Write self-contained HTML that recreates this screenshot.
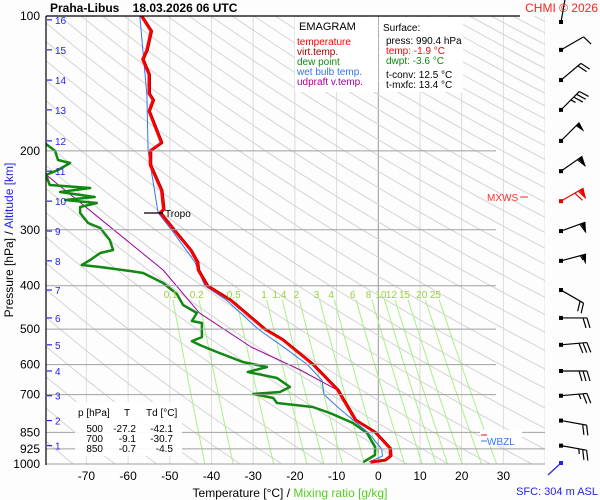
<!DOCTYPE html>
<html><head><meta charset="utf-8"><style>
body{margin:0;background:#fff;}
svg{display:block;font-family:"Liberation Sans",sans-serif;}
</style></head><body>
<svg id="c" width="600" height="500" viewBox="0 0 600 500">
<rect x="0" y="0" width="600" height="500" fill="#fdfdfd"/>
<g id="grid"></g>
<g id="series"></g>
<g id="winds"></g>
<g id="labels"></g>
<g>
<rect x="295" y="17" width="83" height="75" fill="#fff"/>
<rect x="379" y="17" width="84" height="75" fill="#fff"/>
<text x="299" y="30" font-size="11" fill="#000" font-family="Liberation Sans,sans-serif">EMAGRAM</text>
<text x="297" y="45" font-size="10" fill="#ff0000" font-family="Liberation Sans,sans-serif">temperature</text>
<text x="297" y="55" font-size="10" fill="#a00000" font-family="Liberation Sans,sans-serif">virt.temp.</text>
<text x="297" y="65" font-size="10" fill="#118811" font-family="Liberation Sans,sans-serif">dew point</text>
<text x="297" y="75" font-size="10" fill="#3377ee" font-family="Liberation Sans,sans-serif">wet bulb temp.</text>
<text x="297" y="85" font-size="10" fill="#a000a0" font-family="Liberation Sans,sans-serif">udpraft v.temp.</text>
</g>
<g font-family="Liberation Sans,sans-serif" font-size="10">
<text x="383" y="31" fill="#000">Surface:</text>
<text x="386" y="44" fill="#000">press: 990.4 hPa</text>
<text x="386" y="54" fill="#ff0000">temp: -1.9 °C</text>
<text x="386" y="64" fill="#118811">dwpt: -3.6 °C</text>
<text x="386" y="78" fill="#000">t-conv: 12.5 °C</text>
<text x="386" y="88" fill="#000">t-mxfc: 13.4 °C</text>
</g>
<g font-family="Liberation Sans,sans-serif" font-size="10" fill="#000">
<rect x="75" y="402" width="107" height="54" fill="#fff" opacity="0.9"/>
<text x="78" y="416">p [hPa]</text><text x="124" y="416">T</text><text x="146" y="416">Td [°C]</text>
<text x="103" y="432" text-anchor="end">500</text><text x="136" y="432" text-anchor="end">-27.2</text><text x="173" y="432" text-anchor="end">-42.1</text>
<text x="103" y="442" text-anchor="end">700</text><text x="136" y="442" text-anchor="end">-9.1</text><text x="173" y="442" text-anchor="end">-30.7</text>
<text x="103" y="452" text-anchor="end">850</text><text x="136" y="452" text-anchor="end">-0.7</text><text x="173" y="452" text-anchor="end">-4.5</text>
</g>
<line x1="46" y1="16" x2="46" y2="465" stroke="#000" stroke-width="1.2"/>
<line x1="46" y1="16" x2="520" y2="16" stroke="#000" stroke-width="1.2"/>
<g>
<line x1="144" y1="213" x2="163" y2="213" stroke="#000" stroke-width="1.2"/>
<text x="165" y="217" font-size="10" font-family="Liberation Sans,sans-serif">Tropo</text>
</g>
<g font-family="Liberation Sans,sans-serif" font-size="10">
<text x="487" y="201" fill="#ff3030">MXWS</text>
<line x1="520" y1="197" x2="528" y2="197" stroke="#ff3030"/>
</g>
<g font-family="Liberation Sans,sans-serif" font-size="10">
<rect x="480" y="430" width="42" height="16" fill="#fff"/>
<line x1="481" y1="435" x2="487" y2="435" stroke="#ff0000"/>
<line x1="481" y1="441" x2="487" y2="441" stroke="#3377ee"/>
<text x="487" y="445" fill="#3377ee">WBZL</text>
</g>
<g>
<line x1="548" y1="475" x2="561" y2="463" stroke="#22e" stroke-width="1.2"/>
<rect x="559" y="461" width="4" height="4" fill="#22e"/>
</g>
<text x="50" y="12" font-size="12" font-weight="bold" font-family="Liberation Sans,sans-serif">Praha-Libus&#160;&#160;&#160;&#160;18.03.2026 06 UTC</text>
<text x="598" y="12" font-size="12" text-anchor="end" fill="#ff2020" font-family="Liberation Sans,sans-serif">CHMI © 2026</text>
<text x="290" y="497" font-size="12" text-anchor="middle" font-family="Liberation Sans,sans-serif"><tspan fill="#000">Temperature [°C]  /  </tspan><tspan fill="#55cc22">Mixing ratio [g/kg]</tspan></text>
<text x="598" y="495" font-size="11" text-anchor="end" fill="#2222ee" font-family="Liberation Sans,sans-serif">SFC: 304 m ASL</text>
<text transform="translate(13,240) rotate(-90)" font-size="12" text-anchor="middle" font-family="Liberation Sans,sans-serif"><tspan fill="#000">Pressure [hPa]  /  </tspan><tspan fill="#2222ee">Altitude [km]</tspan></text>
</svg>
<script>
const NS='http://www.w3.org/2000/svg';
// ---- data ----
const pressureTicks=[100,200,300,400,500,600,700,850,925,1000];
const tempTicks=[-70,-60,-50,-40,-30,-20,-10,0,10,20,30];
const altitudeKm=[1,2,3,4,5,6,7,8,9,10,11,12,13,14,15,16];
const altitudeP=[910,800,704,620,542,472,409,352,302,259,222,190,162,139,119,102];
const mixRatios=[0.1,0.2,0.5,1,1.4,2,3,4,6,8,10,12,15,20,25];
const tempP=[100,108,119,125,135,149,154,163,192,200,215,245,270,275,300,333,354,369,400,430,500,527,600,682,700,797,850,922,960,980,990.4];
const tempT=[-56.8,-54.5,-55.5,-56.5,-55,-55,-54,-55,-52,-54.7,-54.7,-52,-51.5,-52.3,-49,-45,-43.4,-43.2,-41,-35.5,-27.2,-23,-15.6,-9.8,-9.1,-5.5,-0.7,2.8,2.9,1.7,-1.9];
const dewP=[193.1,200,209.6,212.9,220.7,226.4,238.4,242.1,247.1,253.5,257.4,261.5,266.9,275.3,289.7,297.3,316.2,332.9,338.1,350.5,359.6,363.3,370.9,374.7,394.5,417.4,441.6,460.1,479.5,484.5,520.8,531.6,542.6,562.3,591.9,607.4,623.2,642.7,673.1,690.7,697.8,712.3,730.9,746.1,769.5,810.1,852.6,916.5,954.8,990.4];
const dewT=[-79.7,-77.5,-76.8,-73.9,-76.8,-79.7,-78.8,-69.1,-76.3,-68,-75.1,-67.5,-71.5,-71.5,-69.6,-66.7,-64.4,-63.6,-66.7,-69.1,-71.1,-66.7,-59.5,-56.4,-51.6,-48.3,-46.8,-43.5,-44.7,-42.3,-42.3,-44.7,-42.8,-38.7,-32.5,-26.7,-31.3,-24.3,-21.2,-23.6,-30,-25.2,-24.3,-15.7,-11.6,-6.1,-2.7,-0.8,-0.8,-3.6];
const wetP=[100,150,200,275,300,354,400,430,500,550,600,650,700,750,850,925,960,990.4];
const wetT=[-57.2,-55.5,-55.2,-52.8,-49.6,-44,-41.6,-36.5,-28.8,-22.5,-17,-13.5,-13,-9.5,-2.5,0.8,1,-2.3];
const parcelP=[226.4,369,460,548,617,684];
const parcelT=[-79.6,-51.6,-42.9,-30.5,-18.7,-9.8];
const windP=[102,119,139,162,190,222,259,302,352,409,472,542,620,704,800,910];
const windDir=[10,60,50,45,45,55,60,70,75,120,90,85,90,85,100,100];
const windSpd=[10,10,20,35,50,60,70,60,55,20,20,30,30,25,20,25];
// ---- scales ----
const X0=378.3,KX=4.17,Y0=16,KY=448;
function xT(t){return X0+KX*t;}
function yP(p){return Y0+KY*Math.log10(p/100);}
const L=46,R=545,B=yP(1000);
function mk(tag,attrs,parent){const e=document.createElementNS(NS,tag);for(const k in attrs)e.setAttribute(k,attrs[k]);parent.appendChild(e);return e;}
const grid=document.getElementById('grid'),ser=document.getElementById('series'),lab=document.getElementById('labels'),wg=document.getElementById('winds');
const defs=mk('defs',{},document.getElementById('c'));
const cp=mk('clipPath',{id:'pc'},defs);mk('rect',{x:L,y:Y0,width:R-L,height:B-Y0},cp);
grid.setAttribute('clip-path','url(#pc)');ser.setAttribute('clip-path','url(#pc)');
for(let t=-80;t<=40;t+=10){const x=xT(t);const l=mk('line',{x1:x,x2:x,y1:Y0,y2:B,stroke:t===0?'#999':'#dcdcdc','stroke-width':1},grid);

}
for(let th=200;th<=640;th+=10){let d='';for(let p=100;p<=1000;p+=10){const T=th*Math.pow(p/1000,0.286)-273.15;d+=(p===100?'M':'L')+xT(T).toFixed(1)+','+yP(p).toFixed(1);}
const a=mk('path',{d:d,fill:'none',stroke:'#d4d4d4','stroke-width':1},grid);

}
function tdFromW(w,p){const e=w*p/(622+w);const g=Math.log(e/6.112);return 243.5*g/(17.67-g);}
mixRatios.forEach(w=>{let d='';for(let p=430;p<=1000;p+=10){d+=(p===430?'M':'L')+xT(tdFromW(w,p)).toFixed(1)+','+yP(p).toFixed(1);}
const m=mk('path',{d:d,fill:'none',stroke:'#a8f08a','stroke-width':1},grid);


const t=mk('text',{x:xT(tdFromW(w,405)),y:298,'font-size':10,fill:'#9ad040','text-anchor':'middle'},lab);t.textContent=w;

});
pressureTicks.forEach(p=>{const y=yP(p);const right=p>=850?R:496;
const l=mk('line',{x1:L,x2:right,y1:y,y2:y,stroke:p===100?'#000':'#a0a0a0','stroke-width':1},lab);


const t=mk('text',{x:40,y:y+4,'font-size':12,'text-anchor':'end',fill:'#000'},lab);t.textContent=p;

});
tempTicks.forEach(v=>{const t=mk('text',{x:xT(v),y:480,'font-size':12,'text-anchor':'middle',fill:'#000'},lab);t.textContent=v;

});
altitudeKm.forEach((k,i)=>{const y=yP(altitudeP[i]);
const l=mk('line',{x1:47,x2:52,y1:y,y2:y,stroke:'#22e','stroke-width':1.2},lab);


const t=mk('text',{x:55,y:y+4,'font-size':10,fill:'#22e'},lab);t.textContent=k;

});
function line(P,T,color,w,name){let d='';P.forEach((p,i)=>{d+=(i?'L':'M')+xT(T[i]).toFixed(1)+','+yP(p).toFixed(1);});
const e=mk('path',{d:d,fill:'none',stroke:color,'stroke-width':w,'stroke-linejoin':'round'},ser);

}
line(parcelP,parcelT,'#a000a0',1,'updraft-virtual-temp-line');
line(dewP,dewT,'#118811',2.5,'dew-point-line');
line(wetP,wetT,'#3377ee',1,'wet-bulb-line');
line(tempP,tempT,'#ff0000',3,'temperature-line');
line(tempP,tempT.map(t=>t+0.4),'#b00000',0.8,'virtual-temp-line');
const WX=561;
windP.forEach((p,i)=>{const y=i===0?22:yP(p);const a=windDir[i]*Math.PI/180;const dx=Math.sin(a),dy=-Math.cos(a);
const g=mk('g',{},wg);


const col=i===6?'#e00':'#000';
const ex=WX+dx*26,ey=y+dy*26;
mk('line',{x1:WX,y1:y,x2:ex,y2:ey,stroke:col,'stroke-width':1.2},g);
mk('rect',{x:WX-2,y:y-2,width:4,height:4,fill:col},g);
let s=windSpd[i],pos=0;const px=Math.sin(a+Math.PI/2),py=-Math.cos(a+Math.PI/2);
while(s>=50){const bx=ex-dx*pos,by=ey-dy*pos;mk('polygon',{points:`${bx},${by} ${bx+px*10+dx*-3},${by+py*10+dy*-3} ${bx-dx*5},${by-dy*5}`,fill:col},g);pos+=6;s-=50;}
while(s>=10){const bx=ex-dx*pos,by=ey-dy*pos;mk('line',{x1:bx,y1:by,x2:bx+px*10+dx*3,y2:by+py*10+dy*3,stroke:col,'stroke-width':1.2},g);pos+=4;s-=10;}
if(s>=5){const bx=ex-dx*pos,by=ey-dy*pos;mk('line',{x1:bx,y1:by,x2:bx+px*5+dx*1.5,y2:by+py*5+dy*1.5,stroke:col,'stroke-width':1.2},g);}
});
</script>
</body></html>
